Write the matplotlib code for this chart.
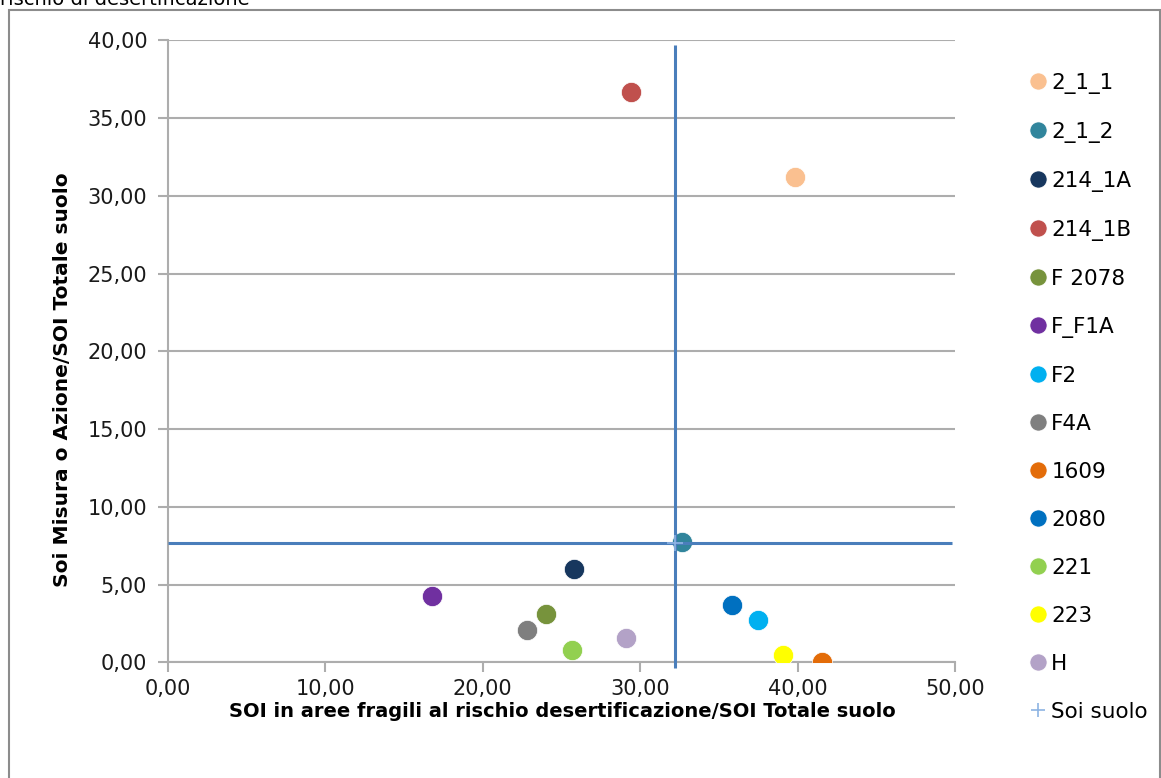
import matplotlib
matplotlib.use("Agg")
import matplotlib.pyplot as plt
from matplotlib.patches import Rectangle
from matplotlib.ticker import FuncFormatter, MultipleLocator

# series
names = ["2_1_1", "2_1_2", "214_1A", "214_1B", "F 2078", "F_F1A", "F2",
         "F4A", "1609", "2080", "221", "223", "H"]
x_vals = [39.83, 32.64, 25.81, 29.42, 24.02, 16.75, 37.47,
          22.81, 41.53, 35.83, 25.67, 39.09, 29.08]
y_vals = [31.19, 7.75, 5.98, 36.65, 3.08, 4.26, 2.70,
          2.05, 0.04, 3.69, 0.79, 0.47, 1.54]
colors = ["#fac090", "#31859c", "#17375e", "#c0504d", "#77933c", "#7030a0", "#00b0f0",
          "#7f7f7f", "#e36c09", "#0070c0", "#92d050", "#ffff00", "#b3a2c7"]

# "Soi suolo" point with its error bars (low/high ends)
soi_label = "Soi suolo"
soi_x = 32.21
soi_y = 7.69
soi_x_range = [0.0, 49.81]
soi_y_range = [-0.37, 39.68]

grid_col = "#adadad"
fmt = FuncFormatter(lambda v, p: f"{v:.2f}".replace(".", ","))

fig = plt.figure(figsize=(11.61, 7.78), dpi=100)
ax = fig.add_axes([168 / 1161, 115.7 / 778, 787 / 1161, 622 / 778])

# outer chart border, cut by the picture edges
fig.patches.append(Rectangle((9 / 1161, -0.1), 1151 / 1161, 0.1 + 768 / 778,
                             transform=fig.transFigure, fill=False,
                             edgecolor="#8c8c8c", linewidth=1.5))
fig.text(0.0, 1 - 5 / 778, "rischio di desertificazione", fontsize=14,
         ha="left", va="baseline", color="#000000")

for n, x, y, c in zip(names, x_vals, y_vals, colors):
    ax.plot(x, y, linestyle="none", marker="o", markersize=14.5, color=c,
            markeredgecolor="white", markeredgewidth=0.5, label=n, zorder=4)

ax.errorbar(soi_x, soi_y,
            xerr=[[soi_x - soi_x_range[0]], [soi_x_range[1] - soi_x]],
            yerr=[[soi_y - soi_y_range[0]], [soi_y_range[1] - soi_y]],
            fmt="none", ecolor="#4a7ebb", elinewidth=2.2, capsize=0,
            clip_on=False, zorder=5)
ax.plot(soi_x, soi_y, linestyle="none", marker="+", markersize=12,
        markeredgewidth=1.2, color="#8eb4e3", label=soi_label, zorder=6)

ax.set_xlim(0, 50)
ax.set_ylim(0, 40)
ax.xaxis.set_major_locator(MultipleLocator(10))
ax.yaxis.set_major_locator(MultipleLocator(5))
ax.xaxis.set_major_formatter(fmt)
ax.yaxis.set_major_formatter(fmt)
ax.grid(axis="y", color=grid_col, linewidth=1.5)
ax.set_axisbelow(True)
for s in ["top", "right"]:
    ax.spines[s].set_visible(False)
for s in ["left", "bottom"]:
    ax.spines[s].set_color(grid_col)
    ax.spines[s].set_linewidth(1.5)
ax.tick_params(axis="both", colors=grid_col, labelcolor="#1a1a1a",
               labelsize=15, length=7, width=1.5)
ax.tick_params(axis="x", pad=5)
ax.tick_params(axis="y", pad=8)

ax.set_xlabel("SOI in aree fragili al rischio desertificazione/SOI Totale suolo",
              fontsize=14, fontweight="bold")
ax.set_ylabel("Soi Misura o Azione/SOI Totale suolo",
              fontsize=14.5, fontweight="bold")
ax.xaxis.set_label_coords(0.5006, -0.064)
ax.yaxis.set_label_coords(-0.122, 0.454)

leg = ax.legend(loc="upper left", bbox_to_anchor=(1020 / 1161, 1 - 62 / 778),
                bbox_transform=fig.transFigure, frameon=False, fontsize=15.5,
                markerscale=0.85, handlelength=0.7, handletextpad=0.25,
                labelspacing=1.3, borderpad=0)

fig.savefig("out.png", dpi=100)
